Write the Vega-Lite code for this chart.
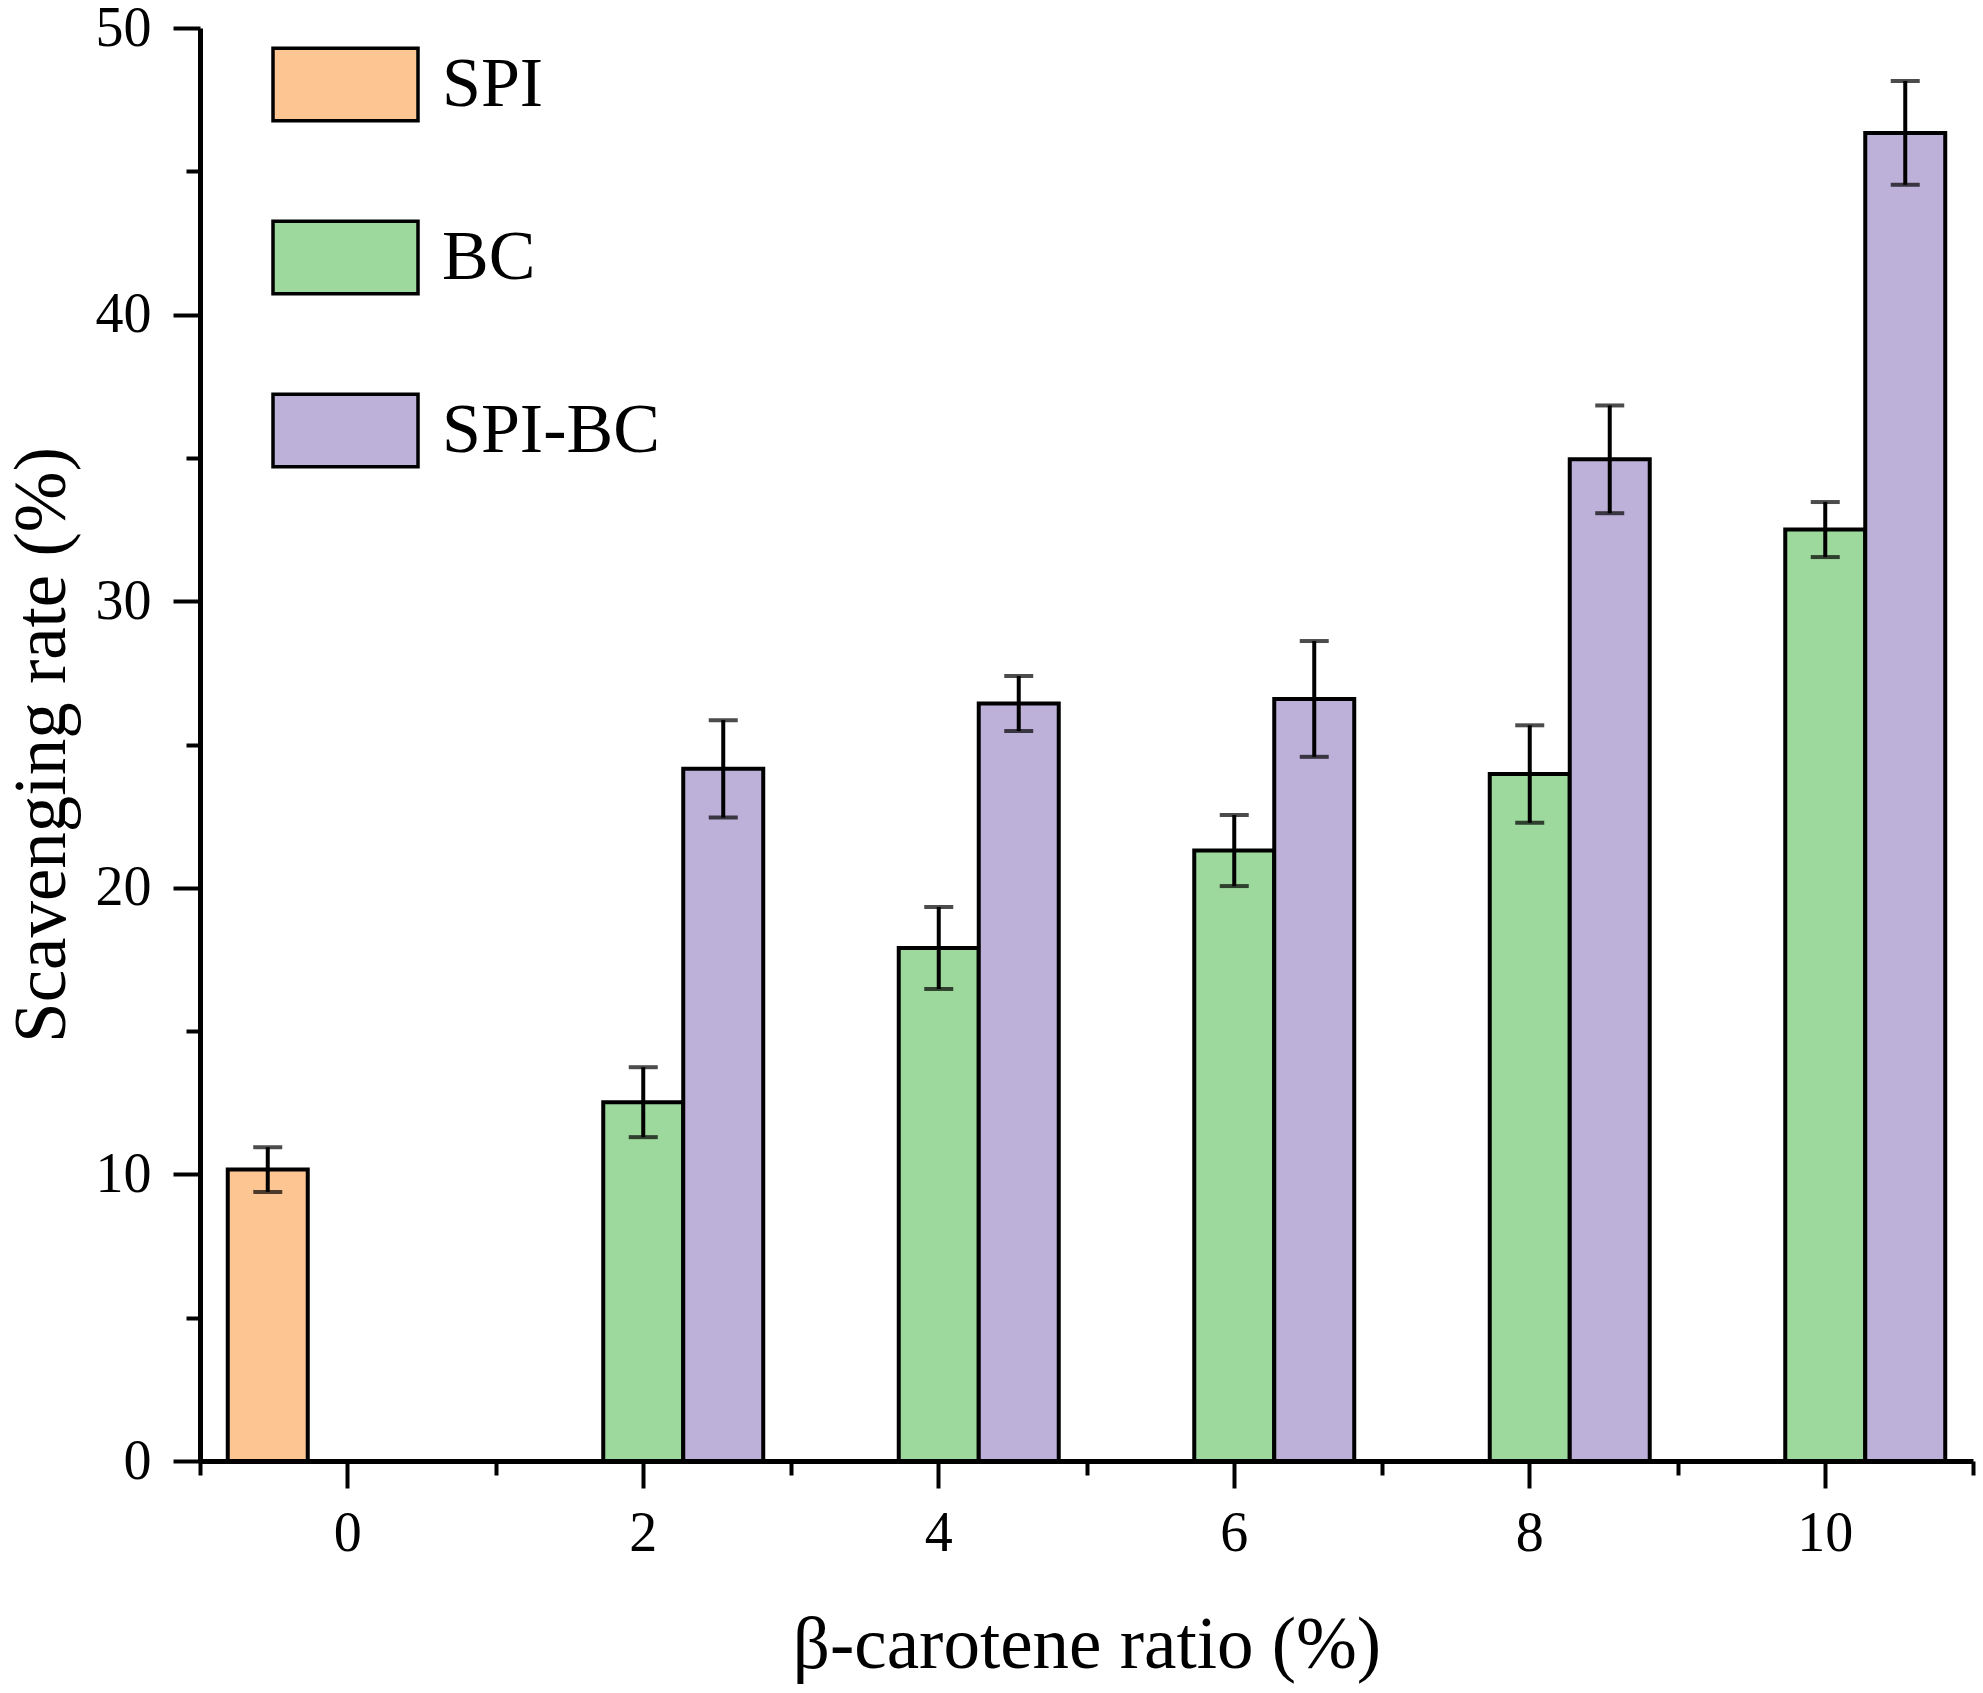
{
  "$schema": "https://vega.github.io/schema/vega-lite/v6.json",
  "width": 1773,
  "height": 1433,
  "autosize": "none",
  "padding": {"left": 200, "top": 28, "right": 10, "bottom": 232},
  "background": "white",
  "config": {
    "font": "Liberation Serif",
    "view": {"stroke": null},
    "axis": {"domainColor": "black", "tickColor": "black", "labelColor": "black", "titleColor": "black", "grid": false}
  },
  "data": {
    "values": [
      {"ratio": 0, "group": "SPI", "value": 10.17, "err": 0.78},
      {"ratio": 2, "group": "BC", "value": 12.52, "err": 1.22},
      {"ratio": 2, "group": "SPI-BC", "value": 24.15, "err": 1.7},
      {"ratio": 4, "group": "BC", "value": 17.9, "err": 1.43},
      {"ratio": 4, "group": "SPI-BC", "value": 26.43, "err": 0.96},
      {"ratio": 6, "group": "BC", "value": 21.3, "err": 1.24},
      {"ratio": 6, "group": "SPI-BC", "value": 26.59, "err": 2.02},
      {"ratio": 8, "group": "BC", "value": 23.97, "err": 1.7},
      {"ratio": 8, "group": "SPI-BC", "value": 34.95, "err": 1.88},
      {"ratio": 10, "group": "BC", "value": 32.5, "err": 0.96},
      {"ratio": 10, "group": "SPI-BC", "value": 46.34, "err": 1.81}
    ]
  },
  "resolve": {"axis": {"x": "independent", "y": "independent"}},
  "layer": [
    {
      "mark": {"type": "bar", "stroke": "black", "strokeWidth": 4},
      "encoding": {
        "x": {
          "field": "ratio", "type": "ordinal", "sort": null,
          "scale": {"domain": [0, 2, 4, 6, 8, 10], "paddingInner": 0, "paddingOuter": 0},
          "axis": {
            "orient": "bottom", "title": "β-carotene ratio (%)", "labelAngle": 0,
            "labelFontSize": 56, "labelPadding": 18, "tickSize": 27, "tickWidth": 4,
            "domainWidth": 5, "titleFontSize": 73, "titleFontWeight": "normal", "titlePadding": 48
          }
        },
        "xOffset": {"field": "group", "type": "nominal", "scale": {"domain": ["SPI", "BC", "SPI-BC"], "paddingInner": 0, "paddingOuter": 0.347}},
        "y": {
          "field": "value", "type": "quantitative",
          "scale": {"domain": [0, 50], "nice": false, "zero": true},
          "axis": {
            "orient": "left", "title": "Scavenging rate (%)", "values": [0, 10, 20, 30, 40, 50],
            "labelFontSize": 56, "labelPadding": 22, "tickSize": 27, "tickWidth": 4,
            "domainWidth": 5, "titleFontSize": 73, "titleFontWeight": "normal", "titlePadding": 16
          }
        },
        "fill": {
          "field": "group", "type": "nominal",
          "scale": {"domain": ["SPI", "BC", "SPI-BC"], "range": ["#FCC592", "#9DD89C", "#BEB1D9"]},
          "legend": {
            "title": null, "orient": "none", "legendX": 71, "legendY": -18, "padding": 0,
            "symbolType": "M-1,-0.5H1V0.5H-1Z", "symbolSize": 21025,
            "symbolStrokeColor": "black", "symbolStrokeWidth": 3.5, "symbolOpacity": 1,
            "labelFontSize": 70, "labelOffset": 22, "labelColor": "black", "rowPadding": 55,
            "labelLimit": 600
          }
        }
      }
    },
    {
      "mark": {
        "type": "errorbar",
        "ticks": {"size": 29, "thickness": 4, "color": "black"},
        "rule": {"strokeWidth": 4, "color": "black"}
      },
      "encoding": {
        "x": {
          "field": "ratio", "type": "ordinal", "sort": null,
          "axis": {
            "orient": "bottom", "title": null, "labels": false, "domain": false,
            "tickBand": "extent", "tickSize": 14, "tickWidth": 4
          }
        },
        "xOffset": {"field": "group", "type": "nominal"},
        "y": {
          "field": "value", "type": "quantitative",
          "axis": {
            "orient": "left", "title": null, "labels": false, "domain": false,
            "values": [5, 15, 25, 35, 45], "tickSize": 14, "tickWidth": 4
          }
        },
        "yError": {"field": "err"}
      }
    }
  ]
}
